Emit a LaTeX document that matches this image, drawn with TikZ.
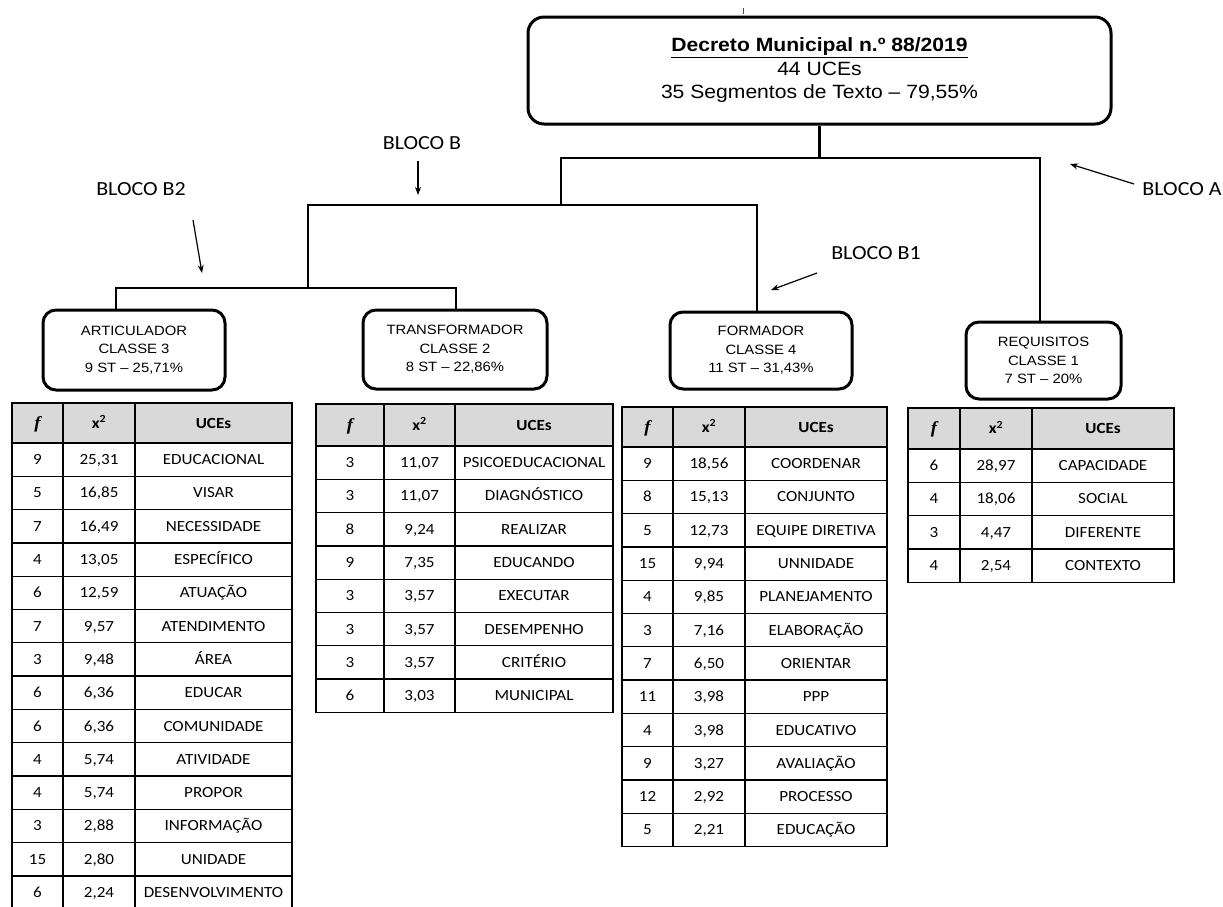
\documentclass[tikz,border=0pt]{standalone}
\usepackage{fontspec}
\setmainfont{Liberation Sans}[FakeStretch=1.1]
\newfontfamily\calib{Carlito}[FakeStretch=1.1]
\newfontfamily\serifit{Liberation Serif}[FakeStretch=1.1]
\usetikzlibrary{arrows.meta}
\definecolor{headgray}{HTML}{D9D9D9}

\tikzset{
  tree/.style={line width=2.8pt, line join=miter},
  mainbox/.style={draw, line width=3pt, rounded corners=16pt, align=center,
    inner sep=0pt, font=\fontsize{19.2}{23.5}\selectfont},
  classbox/.style={draw, line width=3pt, rounded corners=13pt, align=center,
    inner sep=0pt, font=\fontsize{13.5}{18.5}\selectfont},
  blocklabel/.style={inner sep=0pt, font=\calib\fontsize{20}{24}\selectfont},
  blockarrow/.style={line width=1.2pt, -{Stealth[length=8pt,width=6pt]}},
  tabline/.style={line width=1.3pt},
  tabtxt/.style={inner sep=0pt, text height=10pt, text depth=0pt,
    font=\calib\fontsize{15.5}{18}\selectfont},
  tabhead/.style={tabtxt, font=\calib\bfseries\fontsize{15.5}{18}\selectfont}
}

% #1 name, #2..#5 column edges, #6 top, #7 bottom of header, #8 rows f/x2/word
\newcommand{\ucetable}[8]{%
  \draw[tabline, fill=headgray] (#2,#6) rectangle (#5,#7);
  \draw[tabline] (#3,#6) -- (#3,#7) (#4,#6) -- (#4,#7);
  \node[tabhead] (#1-hf) at ({(#2+#3)/2},{(#6+#7)/2}) {{\serifit\bfseries\itshape\fontsize{17}{18}\selectfont f}};
  \node[tabhead] (#1-hx) at ({(#3+#4)/2},{(#6+#7)/2}) {x\textsuperscript{2}};
  \node[tabhead] (#1-hw) at ({(#4+#5)/2},{(#6+#7)/2}) {UCEs};
  \foreach \fv/\xv/\wv [count=\r] in {#8} {
    \pgfmathsetmacro\ya{#7+(\r-1)*33.3}
    \pgfmathsetmacro\yb{\ya+33.3}
    \pgfmathsetmacro\yc{\ya+16.65}
    \draw[tabline] (#2,\ya) rectangle (#5,\yb);
    \draw[tabline] (#3,\ya) -- (#3,\yb) (#4,\ya) -- (#4,\yb);
    \node[tabtxt] (#1-\r-f) at ({(#2+#3)/2},\yc) {\fv};
    \node[tabtxt] (#1-\r-x) at ({(#3+#4)/2},\yc) {\xv};
    \node[tabtxt] (#1-\r-w) at ({(#4+#5)/2},\yc) {\wv};
  }%
}

\begin{document}
\begin{tikzpicture}[x=1pt,y=-1pt]
\fill[white] (0,0) rectangle (1223,906);
\useasboundingbox (0,0) rectangle (1223,906);

% small stray mark above the title box
\draw[line width=0.8pt, black!70] (743,8) -- (743,14);

% title box
\node[mainbox, minimum width=583pt, minimum height=107pt] (top) at (819.5,70.5)
  {\underline{\textbf{Decreto Municipal n.º 88/2019}}\\44 UCEs\\35 Segmentos de Texto – 79,55\%};

% class boxes
\node[classbox, minimum width=182pt, minimum height=80pt] (art) at (134,350)
  {ARTICULADOR\\CLASSE 3\\9 ST – 25,71\%};
\node[classbox, minimum width=184pt, minimum height=79pt] (trans) at (455,349.5)
  {TRANSFORMADOR\\CLASSE 2\\8 ST – 22,86\%};
\node[classbox, minimum width=182pt, minimum height=77pt] (form) at (761,350.5)
  {FORMADOR\\CLASSE 4\\11 ST – 31,43\%};
\node[classbox, minimum width=155pt, minimum height=77pt] (req) at (1043.5,360.5)
  {REQUISITOS\\CLASSE 1\\7 ST – 20\%};

% dendrogram junctions
\coordinate (jA) at (561,158);
\coordinate (jR) at (1040,158);
\coordinate (bL) at (308,205);
\coordinate (bR) at (757,205);
\coordinate (cL) at (116,288);
\coordinate (cR) at (456,288);

\draw[tree] (top.south) -- (top.south |- jA);
\draw[tree] (req.north -| jR) -- (jR) -- (jA) -- (jA |- bL);
\draw[tree] (form.north -| bR) -- (bR) -- (bL) -- (bL |- cL);
\draw[tree] (art.north -| cL) -- (cL) -- (cR) -- (trans.north -| cR);

% block labels and their arrows
\node[blocklabel] (lblB)  at (422,143)  {BLOCO B};
\node[blocklabel] (lblB2) at (141,189)  {BLOCO B2};
\node[blocklabel] (lblB1) at (876,253)  {BLOCO B1};
\node[blocklabel] (lblA)  at (1182,189) {BLOCO A};

\coordinate (aBs) at (418,161);   \coordinate (aBe) at (418,195);
\coordinate (aB2s) at (193,220);  \coordinate (aB2e) at (202,273);
\coordinate (aB1s) at (817,273);  \coordinate (aB1e) at (771,290);
\coordinate (aAs) at (1134,184);  \coordinate (aAe) at (1070,164);
\draw[blockarrow] (aBs) -- (aBe);
\draw[blockarrow] (aB2s) -- (aB2e);
\draw[blockarrow] (aB1s) -- (aB1e);
\draw[blockarrow] (aAs) -- (aAe);

% word tables
\ucetable{ta}{12}{63}{135}{292}{403}{443}{%
  9/{25,31}/EDUCACIONAL, 5/{16,85}/VISAR, 7/{16,49}/NECESSIDADE,
  4/{13,05}/ESPECÍFICO, 6/{12,59}/ATUAÇÃO, 7/{9,57}/ATENDIMENTO,
  3/{9,48}/ÁREA, 6/{6,36}/EDUCAR, 6/{6,36}/COMUNIDADE,
  4/{5,74}/ATIVIDADE, 4/{5,74}/PROPOR, 3/{2,88}/INFORMAÇÃO,
  15/{2,80}/UNIDADE, 6/{2,24}/DESENVOLVIMENTO}
\ucetable{tb}{316}{384}{455}{613}{404}{446}{%
  3/{11,07}/PSICOEDUCACIONAL, 3/{11,07}/DIAGNÓSTICO, 8/{9,24}/REALIZAR,
  9/{7,35}/EDUCANDO, 3/{3,57}/EXECUTAR, 3/{3,57}/DESEMPENHO,
  3/{3,57}/CRITÉRIO, 6/{3,03}/MUNICIPAL}
\ucetable{tc}{622}{673}{745}{887}{407}{447}{%
  9/{18,56}/COORDENAR, 8/{15,13}/CONJUNTO, 5/{12,73}/EQUIPE DIRETIVA,
  15/{9,94}/UNNIDADE, 4/{9,85}/PLANEJAMENTO, 3/{7,16}/ELABORAÇÃO,
  7/{6,50}/ORIENTAR, 11/{3,98}/PPP, 4/{3,98}/EDUCATIVO,
  9/{3,27}/AVALIAÇÃO, 12/{2,92}/PROCESSO, 5/{2,21}/EDUCAÇÃO}
\ucetable{td}{908}{960}{1032}{1174}{408}{449}{%
  6/{28,97}/CAPACIDADE, 4/{18,06}/SOCIAL, 3/{4,47}/DIFERENTE,
  4/{2,54}/CONTEXTO}

\end{tikzpicture}
\end{document}
